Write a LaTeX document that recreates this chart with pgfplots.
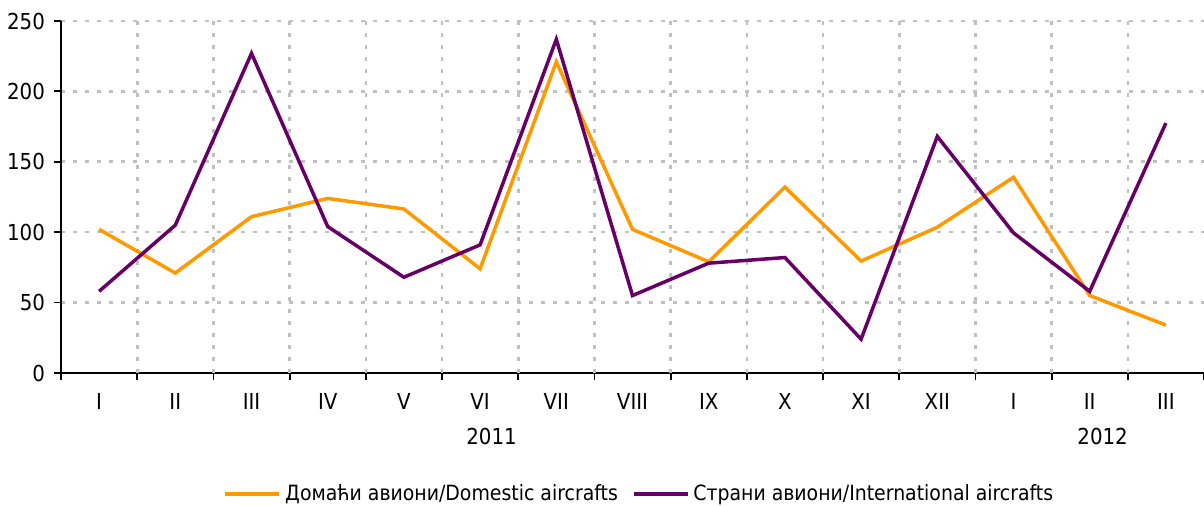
\documentclass[border=0pt]{standalone}
\usepackage{pgfplots}
\pgfplotsset{compat=1.18}
\usepackage{fontspec}
\setmainfont{DejaVu Sans Condensed}
\definecolor{dom}{HTML}{FF9900}
\definecolor{intl}{HTML}{660066}
\definecolor{gridc}{HTML}{C0C0C0}
\begin{document}
\begin{tikzpicture}
\begin{axis}[
  scale only axis,
  width=571.5pt, height=176pt,
  xmin=-0.5, xmax=14.5,
  ymin=0, ymax=250,
  ytick={0,50,...,250},
  xtick={-0.5,0.5,...,14.5},
  x tick label as interval,
  xticklabels={I,II,III,IV,V,VI,VII,VIII,IX,X,XI,XII,I,II,III},
  extra x ticks={0.5,1.5,...,13.5},
  extra x tick labels={},
  extra x tick style={xmajorgrids=true, major tick length=0pt},
  axis x line=bottom, axis y line=left,
  axis line style={-, line width=0.9pt, black},
  tick align=outside,
  major tick length=3.5pt,
  tick style={line width=0.9pt, black},
  ymajorgrids,
  grid style={gridc, line width=1.3pt, dash pattern=on 1.8pt off 4.2pt},
  /pgf/number format/assume math mode=true,
  tick label style={font=\fontsize{11pt}{13pt}\selectfont, black},
  xticklabel style={yshift=-3pt},
  yticklabel style={xshift=-1pt},
  clip=false,
  legend style={draw=none, fill=none, at={(0.507,-0.344)}, anchor=center,
    font=\fontsize{10.5pt}{12pt}\selectfont, legend columns=2,
    /tikz/every even column/.append style={column sep=5pt}},
  legend cell align=left,
  legend image code/.code={\draw[#1, line width=1.75pt] (0pt,0pt) -- (27pt,0pt);},
]
\addplot[dom, line width=1.75pt] coordinates {
(0,102) (1,71) (2,111) (3,124) (4,116.5) (5,74) (6,221) (7,102) (8,79) (9,132) (10,79.5) (11,103.5) (12,139) (13,55) (14,34)};
\addlegendentry{Домаћи авиони/Domestic aircrafts}
\addplot[intl, line width=1.75pt] coordinates {
(0,58) (1,105) (2,227) (3,104) (4,68) (5,91) (6,237) (7,55) (8,78) (9,82) (10,24) (11,168) (12,99.5) (13,58) (14,177.5)};
\addlegendentry{Страни авиони/International aircrafts}
\node[font=\fontsize{11pt}{13pt}\selectfont] at ([yshift=-31.5pt]axis cs:5.15,0) {2011};
\node[font=\fontsize{11pt}{13pt}\selectfont] at ([yshift=-31.5pt]axis cs:13.17,0) {2012};
\end{axis}
\pgfresetboundingbox
\path ([xshift=-30.5pt,yshift=-66.5pt]current axis.south west) rectangle ([yshift=10.5pt]current axis.north east);
\end{tikzpicture}
\end{document}
